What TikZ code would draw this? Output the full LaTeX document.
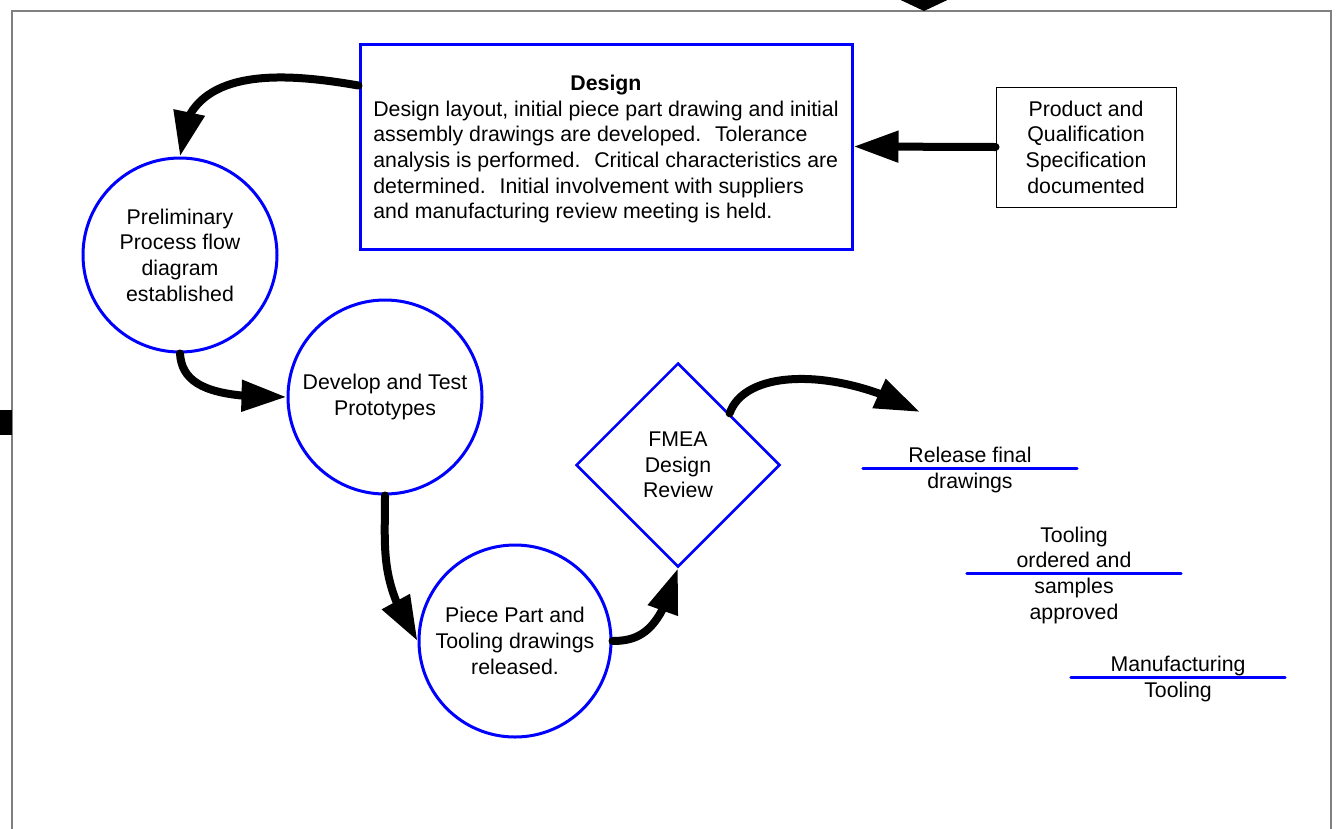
\documentclass[tikz,border=0pt]{standalone}
\usepackage{fontspec}
\setmainfont{Liberation Sans}
\usetikzlibrary{shapes.geometric,arrows.meta,bending}

\definecolor{framegray}{HTML}{808080}
\newcommand{\diafont}{\fontsize{21.3pt}{25.7pt}\selectfont}

\tikzset{
  every node/.style={font=\diafont},
  frame/.style={framegray, line width=2pt},
  box/.style={draw=blue, line width=3pt, minimum width=492pt, minimum height=205pt, inner sep=0pt},
  spec/.style={draw=black, line width=1pt, minimum width=180pt, minimum height=120pt,
    align=center, inner sep=0pt},
  stage/.style={circle, draw=blue, line width=3pt, minimum size=194pt, inner sep=0pt, align=center},
  review/.style={diamond, aspect=1, draw=blue, line width=2.5pt, minimum size=204pt,
    inner sep=0pt, align=center},
  mile/.style={minimum width=214pt, inner sep=0pt},
  mileline/.style={draw=blue, line width=3pt, line cap=round},
  flow/.style={line width=8pt, line cap=round, -{Triangle[length=45pt,width=30pt,flex]}}
}

\begin{document}
\begin{tikzpicture}[x=1pt,y=-1pt]

% Page frame
\useasboundingbox (0,0) rectangle (1338,828);
\draw[frame] (12,840) -- (12,11) -- (1331,11) -- (1331,840);

% Cut off shapes at the edges
\fill (890,-5) -- (958,-5) -- (924,11) -- cycle;
\fill (0,410) rectangle (12,435);

% Design box and specification
\node[box] (design) at (606,146.5) {\raisebox{-3pt}[\height][\depth]{\begin{tabular}{@{}l@{}}
  \multicolumn{1}{@{}c@{}}{\textbf{Design}}\\
  Design layout, initial piece part drawing and initial\\
  assembly drawings are developed.~ Tolerance\\
  analysis is performed.~ Critical characteristics are\\
  determined.~ Initial involvement with suppliers\\
  and manufacturing review meeting is held.
  \end{tabular}}};
\node[spec] (spec) at (1086,147) {Product and\\Qualification\\Specification\\documented};

% Stages
\node[stage] (prelim) at (180,255) {Preliminary\\Process flow\\diagram\\established};
\node[stage] (proto) at (385,397) {Develop and Test\\Prototypes};
\node[stage, minimum size=192pt] (piece) at (515,641) {Piece Part and\\Tooling drawings\\released.};
\node[review] (fmea) at (678,465) {FMEA\\Design\\Review};

% Milestones
\foreach \n/\x/\y/\t in {rel/970/468/{Release final\\drawings},
    tool/1074/573/{Tooling\\ordered and\\samples\\approved},
    manu/1178/677/{Manufacturing\\Tooling}} {
  \node[mile] (\n) at (\x,\y) {\raisebox{-2.5pt}[\height][\depth]{\begin{tabular}{@{}c@{}}\t\end{tabular}}};
  \draw[mileline] (\n.west) -- (\n.east);
}
\coordinate (relin) at (920,412);

% Flow arrows
\draw[flow] (spec.west) -- (design.east);
\draw[flow] ([yshift=-43pt]design.north west) .. controls +(-70,-12) and +(0,-95) .. (prelim.north);
\draw[flow] (prelim.south) .. controls +(2,33) and +(-73,1) .. (proto.west);
\draw[flow] (proto.south) .. controls +(0,56) and +(-38,-58) .. (piece.west);
\draw[flow] (piece.east) .. controls +(30,0) and +(-17,60) .. (fmea.south);
\draw[flow] (fmea.north east) .. controls +(16,-46) and +(-80,-44) .. (relin);

\end{tikzpicture}
\end{document}
